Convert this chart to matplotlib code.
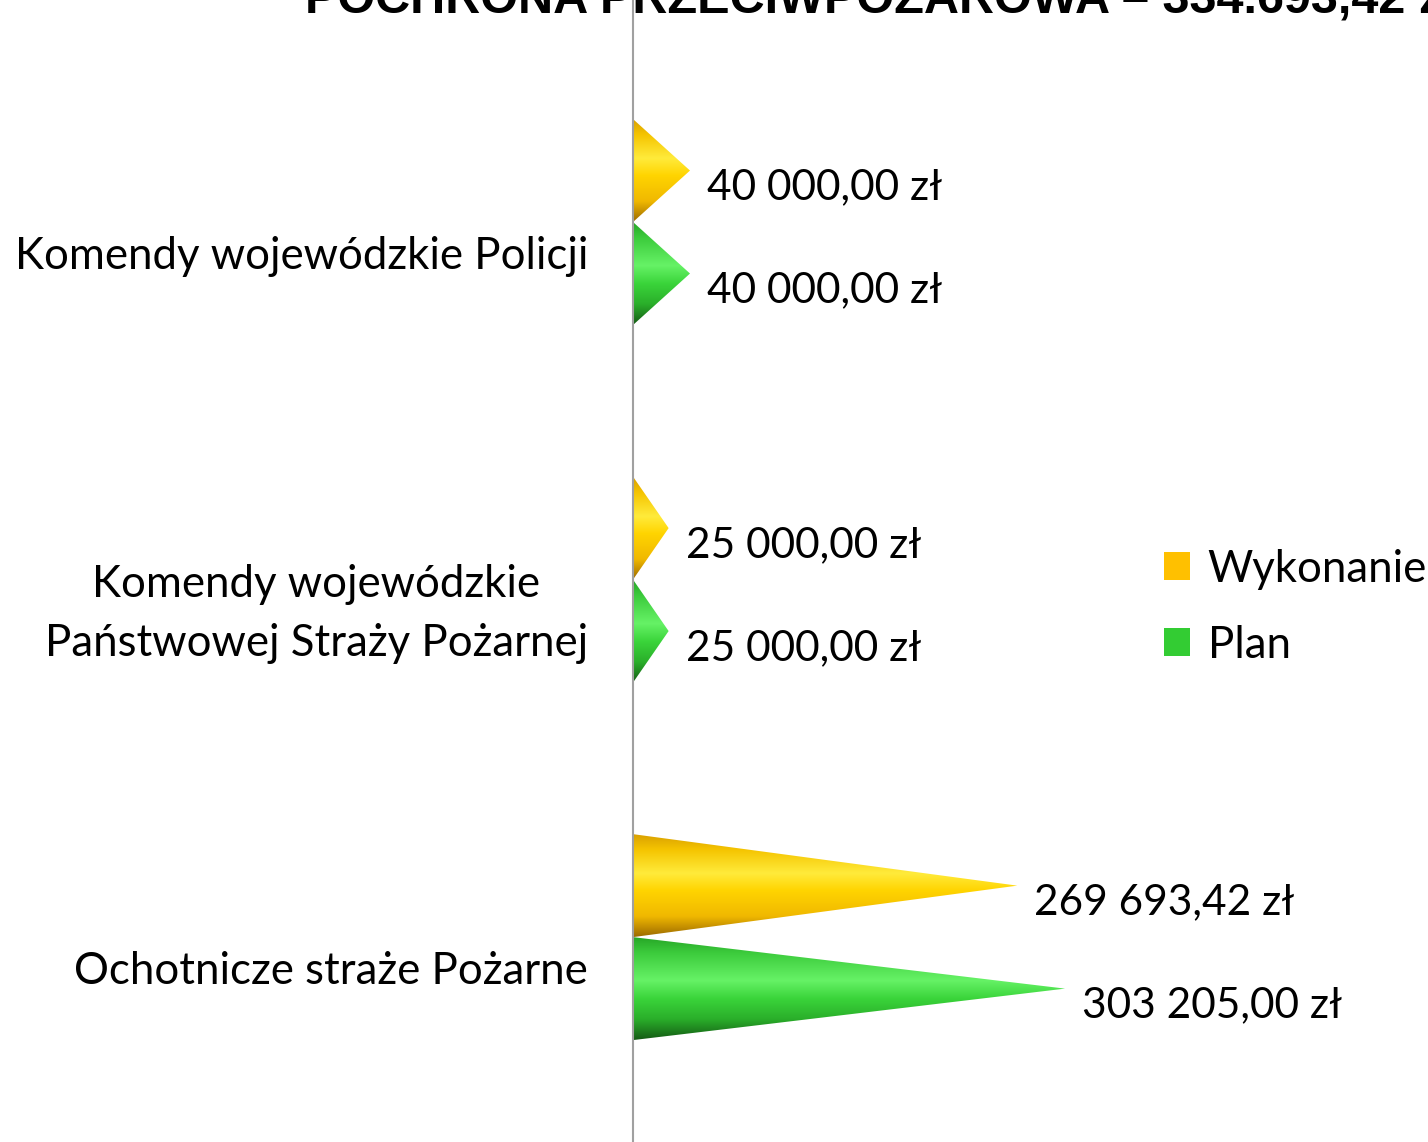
import numpy as np
import matplotlib
matplotlib.use('Agg')
import matplotlib.pyplot as plt
from matplotlib.patches import Polygon, Patch
from matplotlib.colors import LinearSegmentedColormap

# data
categories = ['Komendy wojewódzkie Policji',
              'Komendy wojewódzkie\nPaństwowej Straży Pożarnej',
              'Ochotnicze straże Pożarne']
wykonanie = [40000.00, 25000.00, 269693.42]
plan = [40000.00, 25000.00, 303205.00]
title = 'POCHRONA PRZECIWPOŻAROWA – 334.693,42 zł'

yellow_stops = [(0.0, '#D9A000'), (0.15, '#F5C400'), (0.38, '#FFEB3B'),
                (0.55, '#FFD400'), (0.8, '#F0B800'), (1.0, '#9C6A00')]
green_stops = [(0.0, '#26A626'), (0.15, '#3CCB3C'), (0.42, '#66F266'),
               (0.6, '#3AD43A'), (0.8, '#2AAE2A'), (1.0, '#145A14')]


def fmt(v):
    s = f'{v:,.2f}'.replace(',', ' ').replace('.', ',')
    return s + ' zł'


def cone(ax, y, h, v, stops):
    tri = Polygon([(0, y - h / 2), (v, y), (0, y + h / 2)], closed=True,
                  facecolor='none', edgecolor='none')
    ax.add_patch(tri)
    cmap = LinearSegmentedColormap.from_list('c', stops)
    grad = np.linspace(0, 1, 256).reshape(-1, 1)
    im = ax.imshow(grad, cmap=cmap, extent=(0, v, y - h / 2, y + h / 2),
                   origin='upper', aspect='auto', interpolation='bilinear')
    im.set_clip_path(tri)


fig = plt.figure(figsize=(14.28, 11.42), dpi=100)
ax = fig.add_axes([633 / 1428, 0, 795 / 1428, 1])

font = 'Lato'
fs = 31.5
vfs = 30.5
h = 0.288
ypos = [2, 1, 0]

for i, cat in enumerate(categories):
    y = ypos[i]
    yw = y + h / 2
    yp = y - h / 2
    cone(ax, yw, h, wykonanie[i], yellow_stops)
    cone(ax, yp, h, plan[i], green_stops)
    for val, yy in [(wykonanie[i], yw), (plan[i], yp)]:
        ax.annotate(fmt(val), xy=(val, yy), xytext=(17, -17),
                    textcoords='offset pixels', ha='left', va='center',
                    fontsize=vfs, family=font, annotation_clip=False)
    ax.annotate(cat, xy=(0, y), xytext=(-45, -34), textcoords='offset pixels',
                ha='right', va='center', multialignment='center',
                fontsize=fs, family=font, linespacing=1.55,
                annotation_clip=False)

ax.set_xlim(0, 795 / 0.001425)
ax.set_ylim(-0.573, 2.621)
ax.set_xticks([])
ax.set_yticks([])
for s in ['top', 'right', 'bottom']:
    ax.spines[s].set_visible(False)
ax.spines['left'].set_color('#A0A0A0')
ax.spines['left'].set_linewidth(1.5)

handles = [Patch(facecolor='#FFC000', label='Wykonanie'),
           Patch(facecolor='#33CC33', label='Plan')]
fig.legend(handles=handles, loc='center left',
           bbox_to_anchor=(1155 / 1428, 1 - 607 / 1142), frameon=False,
           prop={'family': font, 'size': fs}, handlelength=0.6,
           handleheight=0.6, handletextpad=0.4, labelspacing=0.8,
           borderaxespad=0, borderpad=0.2)

fig.text(305 / 1428, 1 - 12 / 1142, title, ha='left', va='baseline',
         fontsize=35, fontweight='bold', family='Liberation Sans')

fig.savefig('out.png', dpi=100)
